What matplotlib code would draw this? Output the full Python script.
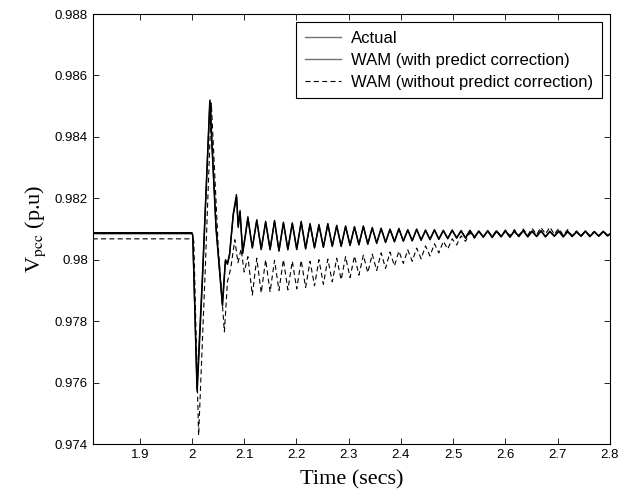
import matplotlib
matplotlib.use("Agg")
import matplotlib.pyplot as plt

# ---------------- data ----------------
# early transient part of each series: (time, value)
t_actual_tr = [1.81, 2.000, 2.0015, 2.0095, 2.0200, 2.0340, 2.0460, 2.0580, 2.0640, 2.0680,
               2.0720, 2.0790, 2.0850, 2.0885, 2.0920, 2.0970, 2.1020]
v_actual_tr = [0.98088, 0.98088, 0.98080, 0.97578, 0.97950, 0.98515, 0.98100, 0.97855, 0.98000, 0.97990,
               0.98020, 0.98150, 0.98212, 0.98110, 0.98160, 0.98025, 0.98080]

t_with_tr = [1.81, 2.000, 2.0015, 2.0100, 2.0200, 2.0345, 2.0460, 2.0585, 2.0640, 2.0680,
             2.0720, 2.0790, 2.0855, 2.0885, 2.0920, 2.0970, 2.1020]
v_with_tr = [0.98085, 0.98085, 0.98078, 0.97570, 0.97930, 0.98520, 0.98110, 0.97850, 0.97995, 0.97985,
             0.98015, 0.98145, 0.98205, 0.98105, 0.98155, 0.98020, 0.98075]

t_without_tr = [1.81, 2.002, 2.0035, 2.0127, 2.0250, 2.0370, 2.0500, 2.0620, 2.0680, 2.0740,
                2.0820, 2.0880, 2.0940, 2.1000]
v_without_tr = [0.98068, 0.98068, 0.98060, 0.97428, 0.97950, 0.98510, 0.98050, 0.97765, 0.97930, 0.97970,
                0.98065, 0.97990, 0.98035, 0.97960]

# oscillation extremes shared time stamps (peaks / troughs)
t_osc = [2.1070, 2.1155, 2.1240, 2.1325, 2.1410, 2.1495, 2.1580, 2.1665, 2.1750, 2.1835,
         2.1920, 2.2005, 2.2090, 2.2175, 2.2260, 2.2345, 2.2430, 2.2515, 2.2600, 2.2685,
         2.2770, 2.2855, 2.2940, 2.3025, 2.3110, 2.3195, 2.3280, 2.3365, 2.3450, 2.3535,
         2.3620, 2.3705, 2.3790, 2.3875, 2.3960, 2.4045, 2.4130, 2.4215, 2.4300, 2.4385,
         2.4470, 2.4555, 2.4640, 2.4725, 2.4810, 2.4895, 2.4980, 2.5065, 2.5150, 2.5235,
         2.5320, 2.5405, 2.5490, 2.5575, 2.5660, 2.5745, 2.5830, 2.5915, 2.6000, 2.6085,
         2.6170, 2.6255, 2.6340, 2.6425, 2.6510, 2.6595, 2.6680, 2.6765, 2.6850, 2.6935,
         2.7020, 2.7105, 2.7190, 2.7275, 2.7360, 2.7445, 2.7530, 2.7615, 2.7700, 2.7785,
         2.7870, 2.7955, 2.8040]

v_actual_osc = [0.98140, 0.98040, 0.98130, 0.98035, 0.98125, 0.98035, 0.98128, 0.98030, 0.98122, 0.98035,
                0.98120, 0.98035, 0.98125, 0.98038, 0.98118, 0.98040, 0.98115, 0.98042, 0.98118, 0.98045,
                0.98112, 0.98045, 0.98110, 0.98048, 0.98108, 0.98050, 0.98110, 0.98052, 0.98105, 0.98055,
                0.98103, 0.98058, 0.98100, 0.98060, 0.98102, 0.98062, 0.98098, 0.98063, 0.98100, 0.98065,
                0.98097, 0.98067, 0.98098, 0.98068, 0.98096, 0.98070, 0.98097, 0.98072, 0.98095, 0.98072,
                0.98096, 0.98074, 0.98094, 0.98075, 0.98095, 0.98074, 0.98094, 0.98076, 0.98095, 0.98075,
                0.98094, 0.98077, 0.98096, 0.98076, 0.98094, 0.98077, 0.98095, 0.98076, 0.98093, 0.98078,
                0.98094, 0.98076, 0.98093, 0.98077, 0.98092, 0.98078, 0.98094, 0.98077, 0.98092, 0.98078,
                0.98093, 0.98079, 0.98090]

v_with_osc = [0.98135, 0.98038, 0.98128, 0.98033, 0.98122, 0.98032, 0.98125, 0.98028, 0.98120, 0.98032,
              0.98118, 0.98033, 0.98122, 0.98035, 0.98115, 0.98038, 0.98112, 0.98040, 0.98115, 0.98043,
              0.98110, 0.98043, 0.98108, 0.98046, 0.98106, 0.98048, 0.98108, 0.98050, 0.98103, 0.98053,
              0.98101, 0.98056, 0.98098, 0.98058, 0.98100, 0.98060, 0.98096, 0.98061, 0.98098, 0.98063,
              0.98095, 0.98065, 0.98096, 0.98066, 0.98094, 0.98068, 0.98095, 0.98070, 0.98093, 0.98070,
              0.98094, 0.98072, 0.98092, 0.98073, 0.98093, 0.98072, 0.98092, 0.98074, 0.98093, 0.98073,
              0.98092, 0.98075, 0.98094, 0.98074, 0.98092, 0.98075, 0.98093, 0.98074, 0.98091, 0.98076,
              0.98092, 0.98074, 0.98091, 0.98075, 0.98090, 0.98076, 0.98092, 0.98075, 0.98090, 0.98076,
              0.98091, 0.98077, 0.98088]

v_without_osc = [0.98010, 0.97885, 0.98005, 0.97892, 0.98000, 0.97895, 0.97998, 0.97900, 0.98000, 0.97902,
                 0.97995, 0.97905, 0.97998, 0.97910, 0.97995, 0.97915, 0.98000, 0.97920, 0.98002, 0.97928,
                 0.98005, 0.97935, 0.98010, 0.97942, 0.98012, 0.97950, 0.98015, 0.97958, 0.98018, 0.97965,
                 0.98022, 0.97972, 0.98025, 0.97980, 0.98028, 0.97988, 0.98032, 0.97995, 0.98038, 0.98003,
                 0.98045, 0.98012, 0.98052, 0.98022, 0.98060, 0.98035, 0.98068, 0.98048, 0.98078, 0.98060,
                 0.98088, 0.98070, 0.98092, 0.98074, 0.98094, 0.98076, 0.98096, 0.98077, 0.98097, 0.98078,
                 0.98098, 0.98079, 0.98100, 0.98080, 0.98102, 0.98082, 0.98105, 0.98084, 0.98106, 0.98083,
                 0.98102, 0.98080, 0.98098, 0.98078, 0.98094, 0.98077, 0.98093, 0.98078, 0.98092, 0.98078,
                 0.98093, 0.98079, 0.98090]

series_labels = ["Actual", "WAM (with predict correction)", "WAM (without predict correction)"]
x_ticks = [1.9, 2.0, 2.1, 2.2, 2.3, 2.4, 2.5, 2.6, 2.7, 2.8]
x_tick_labels = ["1.9", "2", "2.1", "2.2", "2.3", "2.4", "2.5", "2.6", "2.7", "2.8"]
y_ticks = [0.974, 0.976, 0.978, 0.980, 0.982, 0.984, 0.986, 0.988]
y_tick_labels = ["0.974", "0.976", "0.978", "0.98", "0.982", "0.984", "0.986", "0.988"]

# ---------------- plot ----------------
plt.rcParams["font.family"] = ["Liberation Sans", "DejaVu Sans"]
plt.rcParams["mathtext.fontset"] = "stix"

fig = plt.figure(figsize=(6.38, 5.04), dpi=100)
ax = fig.add_axes([0.1453, 0.1190, 0.8108, 0.8532])

ax.plot(t_actual_tr + t_osc, v_actual_tr + v_actual_osc, color="black", lw=1.0,
        label=series_labels[0])
ax.plot(t_with_tr + t_osc, v_with_tr + v_with_osc, color="black", lw=1.0,
        label=series_labels[1])
ax.plot(t_without_tr + t_osc, v_without_tr + v_without_osc, color="black", lw=0.8,
        ls=(0, (4.5, 3)), label=series_labels[2])

ax.set_xlim(1.81, 2.8)
ax.set_ylim(0.974, 0.988)
ax.set_xticks(x_ticks)
ax.set_xticklabels(x_tick_labels)
ax.set_yticks(y_ticks)
ax.set_yticklabels(y_tick_labels)
ax.tick_params(direction="in", top=True, right=True, labelsize=9.5, length=4, width=0.6)
for s in ax.spines.values():
    s.set_linewidth(0.8)

ax.set_xlabel("Time (secs)", family="Liberation Serif", fontsize=16, labelpad=7)
ax.set_ylabel(r"V$_{\mathrm{pcc}}$ (p.u)", family="Liberation Serif", fontsize=16, labelpad=5)

leg = ax.legend(loc="upper right", fontsize=12, frameon=True, fancybox=False,
                edgecolor="black", framealpha=1, borderaxespad=0.5, handlelength=2.2,
                labelspacing=0.42, borderpad=0.5, handletextpad=0.6)
leg.get_frame().set_linewidth(0.8)
for h in leg.get_lines()[:2]:
    h.set_color("0.45")

fig.savefig("out.png", dpi=100)
